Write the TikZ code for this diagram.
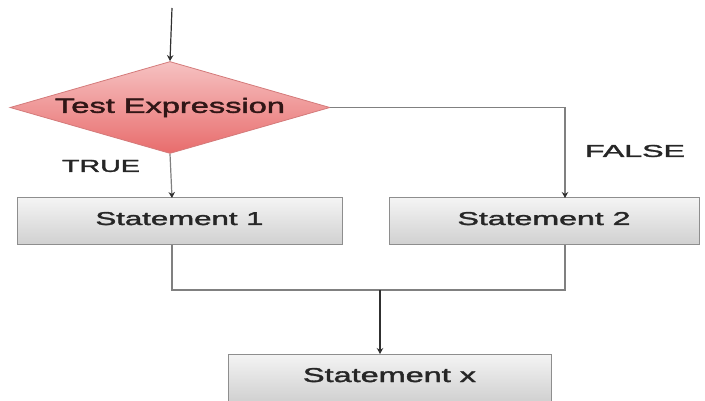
\documentclass[tikz,border=0pt]{standalone}
\usepackage{graphicx}
\usepackage{fontspec}
\setmainfont{Liberation Sans}[BoldFont={Liberation Sans},BoldFeatures={FakeBold=1.6}]
\usetikzlibrary{shapes.geometric,arrows.meta}

\definecolor{diamtop}{HTML}{F6C2C2}
\definecolor{diambot}{HTML}{E86C6C}
\definecolor{diamline}{HTML}{D47A7A}
\definecolor{boxtop}{HTML}{F4F4F4}
\definecolor{boxbot}{HTML}{D0D0D0}
\definecolor{boxline}{HTML}{8E8E8E}
\definecolor{flowgray}{HTML}{808080}
\definecolor{flowdark}{HTML}{303030}
\definecolor{inktext}{HTML}{262626}
\definecolor{diamtext}{HTML}{301616}

% stretched sans label: width, cap height, text
\newcommand\wlabel[3]{\resizebox{#1}{#2}{\bfseries #3}}

\tikzset{
  x=1pt, y=1pt,
  decision/.style={diamond, draw=diamline, line width=0.8pt,
    top color=diamtop, bottom color=diambot, aspect=3.48,
    minimum width=320pt, minimum height=92pt, inner sep=0pt,
    text=diamtext},
  stmt/.style={rectangle, draw=boxline, line width=1pt,
    top color=boxtop, bottom color=boxbot,
    minimum height=47pt, inner sep=0pt, text depth=6pt, text=inktext},
  flow/.style={draw=flowgray, line width=1.2pt},
  flowin/.style={draw=flowdark, line width=1.2pt},
  tip/.style={-{Stealth[length=6pt,width=6.5pt,color=flowdark]}},
  branch/.style={text=inktext, inner sep=0pt}
}

\begin{document}
\begin{tikzpicture}
\useasboundingbox (0,0) rectangle (705,-401);

% decision and statements
\node[decision] (test) at (170,-107.5) {\wlabel{230pt}{15pt}{Test Expression}};
\node[stmt, minimum width=325pt] (s1) at (179.5,-221.5) {\wlabel{168pt}{13pt}{Statement 1}};
\node[stmt, minimum width=310pt] (s2) at (544,-221.5) {\wlabel{173pt}{13pt}{Statement 2}};
\node[stmt, minimum width=323pt, minimum height=48pt] (sx) at (389.5,-378) {\wlabel{173pt}{14pt}{Statement x}};

% branch labels
\node[branch] (lt) at (101,-166) {\wlabel{78pt}{12pt}{TRUE}};
\node[branch] (lf) at (635,-151) {\wlabel{100pt}{12pt}{FALSE}};

% helper points
\coordinate (entry) at (172,-8);
\coordinate (s1top) at (172,-198);
\coordinate (s1bot) at (172,-245);
\coordinate (s2top) at (565,-198);
\coordinate (s2bot) at (565,-245);
\coordinate (j1) at (172,-290);
\coordinate (j2) at (565,-290);
\coordinate (jm) at (380,-290);
\coordinate (sxtop) at (380,-354);
\coordinate (fcorner) at (565,-107.5);

% connectors
\draw[flowin, tip] (entry) -- (test.north);
\draw[flow, tip] (test.south) -- (s1top);
\draw[flow, tip] (test.east) -- (fcorner) -- (s2top);
\draw[flow] (s1bot) -- (j1) -- (j2) -- (s2bot);
\draw[flowin, tip] (jm) -- (sxtop);
\end{tikzpicture}
\end{document}
